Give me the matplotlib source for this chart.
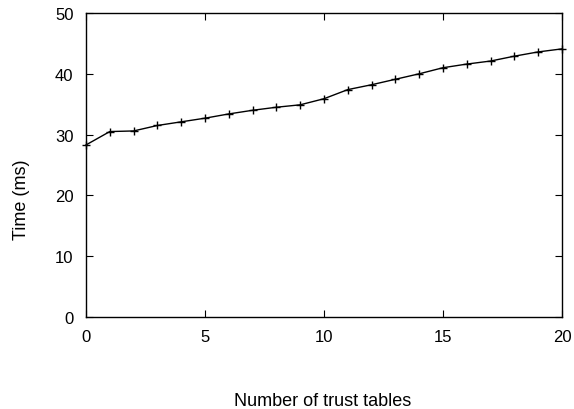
import matplotlib
matplotlib.use("Agg")
import matplotlib.pyplot as plt

plt.rcParams['font.family'] = ['Liberation Sans', 'DejaVu Sans']

# Number of trust tables vs. measured time
tables = list(range(0, 21))
time_ms = [28.3, 30.5, 30.6, 31.5, 32.1, 32.7, 33.4, 34.0, 34.5, 34.9, 35.9,
           37.4, 38.2, 39.1, 40.0, 41.0, 41.6, 42.1, 42.9, 43.6, 44.1]
xticks = [0, 5, 10, 15, 20]
yticks = [0, 10, 20, 30, 40, 50]

W, H = 574, 410
fig = plt.figure(figsize=(W / 100, H / 100), dpi=100)
ax = fig.add_axes([86 / W, 1 - 318 / H, (562 - 86) / W, (318 - 14) / H])

ax.plot(tables, time_ms, color='black', linewidth=1.0, marker='+',
        markersize=5.5, markeredgewidth=1.0, clip_on=False)

ax.set_xlim(0, 20)
ax.set_ylim(0, 50)
ax.set_xticks(xticks)
ax.set_yticks(yticks)
ax.tick_params(direction='in', length=5, width=0.8, top=True, right=True,
               labelsize=12, pad=9, colors='black')
for s in ax.spines.values():
    s.set_linewidth(1.0)

fig.text(21 / W, 1 - 200 / H, 'Time (ms)', rotation=90,
         ha='center', va='center', fontsize=13)
fig.text(323 / W, 1 - 406.5 / H, 'Number of trust tables',
         ha='center', va='baseline', fontsize=13)

fig.savefig('out.png', dpi=100)
